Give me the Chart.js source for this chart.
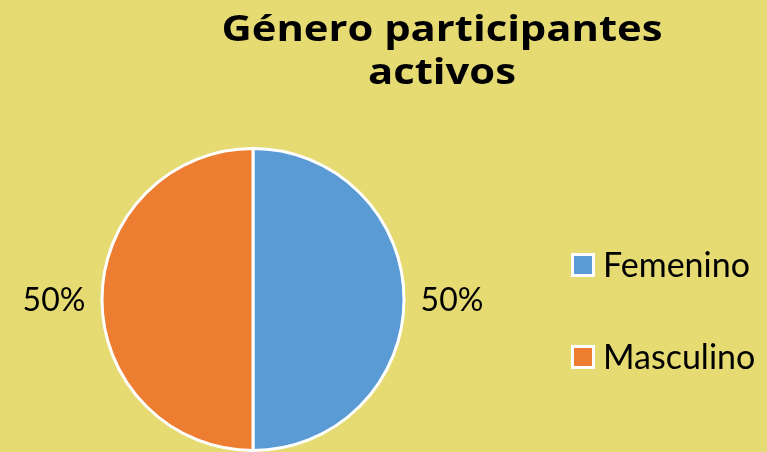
<!DOCTYPE html>
<html lang="es">
<head>
  <meta charset="UTF-8" />
  <title>Género participantes activos</title>
  <script src="https://cdn.jsdelivr.net/npm/chart.js"></script>
  <style>
    html, body { margin: 0; padding: 0; background: #e5db72; }
    #wrap { width: 767px; height: 452px; }
  </style>
</head>
<body>
  <div id="wrap"><canvas id="grafico" width="767" height="452"></canvas></div>

  <script>
    // datos del gráfico
    const categorias = ['Femenino', 'Masculino'];
    const valores = [50, 50];
    const colores = ['#5b9bd5', '#ed7d31'];
    const tituloLineas = ['Género participantes', 'activos'];

    const fuente = 'Lato, "Open Sans", sans-serif';

    // titulo, porcentajes y leyenda dibujados a mano
    const extras = {
      id: 'extras',
      afterDraw(chart) {
        const ctx = chart.ctx;
        ctx.save();
        ctx.fillStyle = '#000';

        // titulo (la fuente original es mas ancha, se estira un poco)
        ctx.save();
        ctx.font = 'bold 36px "Open Sans", sans-serif';
        ctx.textAlign = 'center';
        ctx.textBaseline = 'alphabetic';
        ctx.translate(442, 0);
        ctx.scale(1.16, 1);
        ctx.fillText(tituloLineas[0], 0, 41);
        ctx.fillText(tituloLineas[1], 0, 84);
        ctx.restore();

        // etiquetas de porcentaje fuera de la torta
        const meta = chart.getDatasetMeta(0);
        const total = valores.reduce((a, b) => a + b, 0);
        ctx.font = '32px ' + fuente;
        ctx.textAlign = 'center';
        ctx.textBaseline = 'middle';
        meta.data.forEach((arc, i) => {
          const p = arc.getProps(['x', 'y', 'startAngle', 'endAngle', 'outerRadius'], true);
          const ang = (p.startAngle + p.endAngle) / 2;
          const d = p.outerRadius + 48;
          const txt = Math.round(valores[i] / total * 100) + '%';
          ctx.fillText(txt, p.x + Math.cos(ang) * d, p.y + Math.sin(ang) * d + 1);
        });

        // leyenda
        ctx.textAlign = 'left';
        ctx.font = '34px ' + fuente;
        categorias.forEach((c, i) => {
          const y = 265 + i * 92;
          ctx.fillStyle = '#fff';
          ctx.fillRect(571, y - 12, 24, 24);
          ctx.fillStyle = colores[i];
          ctx.fillRect(574, y - 9, 18, 18);
          ctx.fillStyle = '#000';
          ctx.fillText(c, 603, y + 1);
        });
        ctx.restore();
      }
    };

    const ctx = document.getElementById('grafico').getContext('2d');

    const chart = new Chart(ctx, {
      type: 'pie',
      data: {
        labels: categorias,
        datasets: [
          {
            data: valores,
            backgroundColor: colores,
            borderColor: '#ffffff',
            borderWidth: 3
          }
        ]
      },
      options: {
        responsive: false,
        animation: false,
        layout: {
          padding: { left: 100, right: 361, top: 147, bottom: 0 }
        },
        plugins: {
          legend: { display: false },
          title: { display: false },
          tooltip: { enabled: false }
        }
      },
      plugins: [extras]
    });
  </script>
</body>
</html>
